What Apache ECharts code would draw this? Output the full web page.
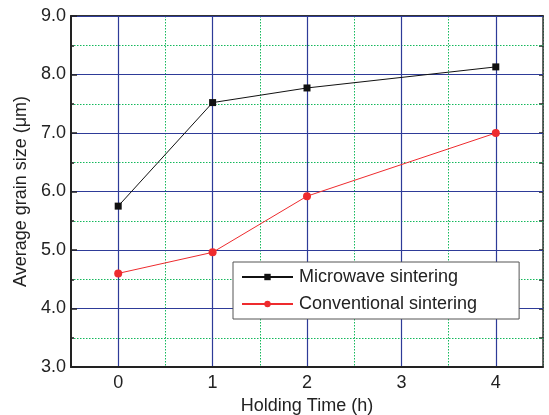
<!doctype html>
<html lang="en">
<head>
    <meta charset="UTF-8">
    <script src="https://cdn.jsdelivr.net/npm/echarts@6/dist/echarts.min.js"></script>
    <title>Average grain size vs holding time</title>
    <style>
        html, body { margin: 0; padding: 0; background: #fff; }
    </style>
</head>
<body>
<div id="main" style="width: 549px;height:415px;"></div>
<script>
    // data
    var categories = ['0', '1', '2', '3', '4'];
    var hours = [0, 1, 2, 4];
    var microwave = [5.75, 7.52, 7.77, 8.13];
    var conventional = [4.60, 4.96, 5.92, 7.00];
    var yTicks = [3, 4, 5, 6, 7, 8, 9];

    var font = 'Liberation Sans, Arial, Helvetica, sans-serif';
    var blue = '#2e3b98';
    var green = '#14b85c';

    function pairs(ys) {
        var out = [];
        for (var i = 0; i < hours.length; i++) {
            out.push([categories.indexOf(String(hours[i])), ys[i]]);
        }
        return out;
    }

    var myChart = echarts.init(document.getElementById('main'));

    var option = {
        animation: false,
        backgroundColor: '#fff',
        grid: { left: 71, right: 6, top: 16, bottom: 48, containLabel: false, outerBoundsMode: 'none' },
        legend: {
            left: 233, top: 262,
            orient: 'vertical',
            padding: [6, 42, 6, 8],
            itemGap: 9,
            itemWidth: 51,
            itemHeight: 8,
            backgroundColor: '#fff',
            borderColor: '#555',
            borderWidth: 1,
            textStyle: { fontFamily: font, fontSize: 18, color: '#222', padding: [0, 0, 0, 1] },
            data: ['Microwave sintering', 'Conventional sintering']
        },
        xAxis: [
            {
                type: 'category', data: categories, boundaryGap: true, position: 'bottom',
                name: 'Holding Time (h)', nameLocation: 'middle', nameGap: 29,
                nameTextStyle: { fontFamily: font, fontSize: 18, color: '#222' },
                axisLine: { lineStyle: { color: '#222', width: 2 } },
                axisTick: { alignWithLabel: true, inside: true, length: 6, lineStyle: { color: '#222', width: 1.5 } },
                axisLabel: { fontFamily: font, fontSize: 18, color: '#222', margin: 7 },
                splitLine: { show: true, alignWithLabel: true, lineStyle: { color: blue, width: 1.2 } },
                z: 3
            },
            {
                type: 'category', data: categories, boundaryGap: true, position: 'bottom',
                axisLine: { show: false },
                axisTick: { inside: true, length: 3, lineStyle: { color: '#222', width: 1.5 } },
                axisLabel: { show: false },
                splitLine: { show: true, lineStyle: { color: green, width: 1, type: [1.5, 1.5] } }
            },
            {
                type: 'category', data: categories, boundaryGap: true, position: 'top',
                axisLine: { show: true, lineStyle: { color: '#333', width: 2 } },
                axisTick: { alignWithLabel: true, inside: true, length: 6, lineStyle: { color: '#222', width: 1.5 } },
                axisLabel: { show: false },
                splitLine: { show: false }
            },
            {
                type: 'category', data: categories, boundaryGap: true, position: 'top',
                axisLine: { show: false },
                axisTick: { inside: true, length: 3, lineStyle: { color: '#222', width: 1.5 } },
                axisLabel: { show: false },
                splitLine: { show: false }
            }
        ],
        yAxis: [
            {
                type: 'value', min: yTicks[0], max: yTicks[yTicks.length - 1], interval: 1, position: 'left',
                name: 'Average grain size (\u03bcm)', nameLocation: 'middle', nameGap: 32,
                nameTextStyle: { fontFamily: font, fontSize: 18, color: '#222' },
                axisLine: { show: true, lineStyle: { color: '#222', width: 2 } },
                axisTick: { show: true, inside: true, length: 6, lineStyle: { color: '#222', width: 1.5 } },
                minorTick: { show: true, splitNumber: 2, length: 3, lineStyle: { color: '#222', width: 1.5 } },
                axisLabel: {
                    fontFamily: font, fontSize: 18, color: '#222', margin: 5,
                    formatter: function (v) { return v.toFixed(1); }
                },
                splitLine: { show: true, lineStyle: { color: blue, width: 1.2 } },
                minorSplitLine: { show: true, lineStyle: { color: green, width: 1, type: [1.5, 1.5] } },
                z: 3
            },
            {
                type: 'value', min: yTicks[0], max: yTicks[yTicks.length - 1], interval: 1, position: 'right',
                axisLine: { show: true, lineStyle: { color: '#333', width: 1.5 } },
                axisTick: { show: true, inside: true, length: 4, lineStyle: { color: '#222', width: 1.5 } },
                minorTick: { show: true, splitNumber: 2, length: 4, lineStyle: { color: '#222', width: 1.5 } },
                axisLabel: { show: false },
                splitLine: { show: false }
            }
        ],
        series: [
            {
                name: 'Microwave sintering',
                type: 'line',
                data: pairs(microwave),
                symbol: 'rect',
                symbolSize: 7,
                color: '#111',
                lineStyle: { color: '#111', width: 1 },
                itemStyle: { color: '#111' },
                z: 5
            },
            {
                name: 'Conventional sintering',
                type: 'line',
                data: pairs(conventional),
                symbol: 'circle',
                symbolSize: 8,
                color: '#ee2b2e',
                lineStyle: { color: '#ee2b2e', width: 1 },
                itemStyle: { color: '#ee2b2e' },
                z: 5
            }
        ]
    };

    myChart.setOption(option);
</script>
</body>
</html>
